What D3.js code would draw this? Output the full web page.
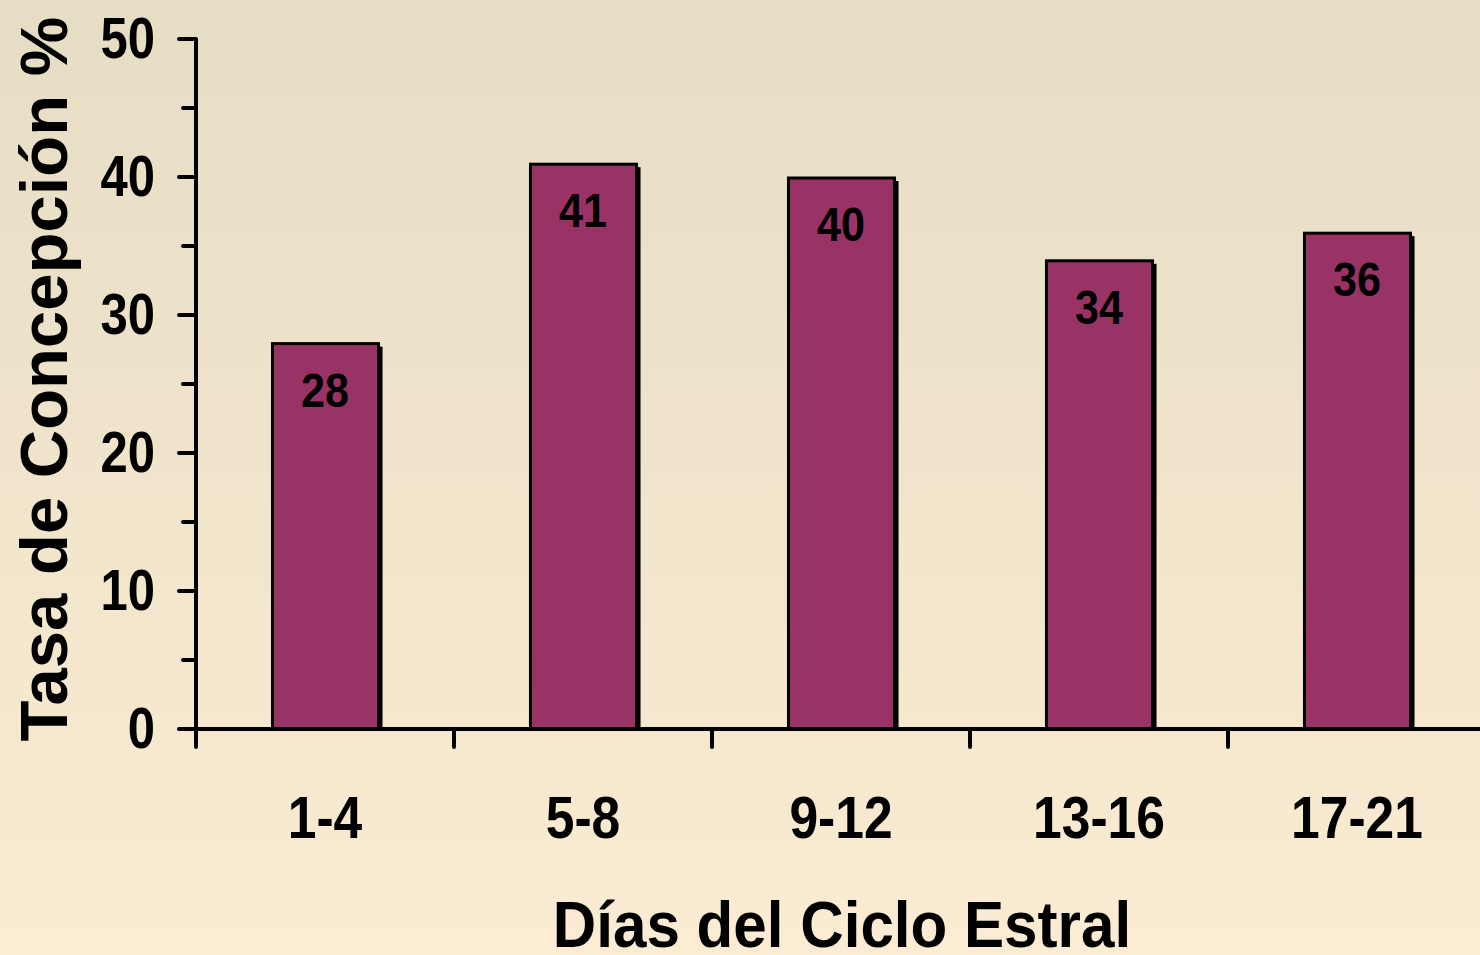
<!DOCTYPE html>
<html>
<head>
<meta charset="utf-8">
<script src="https://cdn.jsdelivr.net/npm/d3@7"></script>
<style>
  html, body { margin: 0; padding: 0; }
  body { width: 1480px; height: 955px; overflow: hidden; }
  text { font-family: "Liberation Sans", Arial, sans-serif; font-weight: bold; fill: #000; }
</style>
</head>
<body>
<div id="visualization"></div>
<script>
const categories = ["1-4", "5-8", "9-12", "13-16", "17-21"];
const values = [28, 41, 40, 34, 36];
const yTicks = [0, 10, 20, 30, 40, 50];
const yMinorTicks = [5, 15, 25, 35, 45];

const W = 1480, H = 955;
const x0 = 196, y0 = 729, yTop = 39;
const narrow = 0.86; // fake Arial Narrow by squeezing the text

const svg = d3
  .select("#visualization")
  .append("svg")
  .attr("width", W)
  .attr("height", H);

// background gradient
const grad = svg.append("defs").append("linearGradient")
  .attr("id", "bg").attr("x1", 0).attr("y1", 0).attr("x2", 0).attr("y2", 1);
grad.append("stop").attr("offset", "0%").attr("stop-color", "#e5ddc4");
grad.append("stop").attr("offset", "100%").attr("stop-color", "#fbecd3");
svg.append("rect").attr("width", W).attr("height", H).attr("fill", "url(#bg)");

const x = d3.scaleBand()
  .domain(categories)
  .range([x0, x0 + 5 * 258])
  .paddingInner(0.585)
  .paddingOuter(0.2925);

const y = d3.scaleLinear().domain([0, 50]).range([y0, yTop]);

// bars: shadow then bar
const bars = svg.append("g");
bars.selectAll("rect.shadow")
  .data(values)
  .join("rect")
  .attr("class", "shadow")
  .attr("x", (d, i) => x(categories[i]) + 4)
  .attr("y", (d) => y(d) + 4)
  .attr("width", x.bandwidth())
  .attr("height", (d) => y0 - y(d) - 4)
  .attr("fill", "#000");

bars.selectAll("rect.bar")
  .data(values)
  .join("rect")
  .attr("class", "bar")
  .attr("x", (d, i) => x(categories[i]) + 1)
  .attr("y", (d) => y(d) + 1)
  .attr("width", x.bandwidth() - 1)
  .attr("height", (d) => y0 - y(d) - 1)
  .attr("fill", "#993366")
  .attr("stroke", "#000")
  .attr("stroke-width", 3);

// value labels
svg.append("g")
  .selectAll("text")
  .data(values)
  .join("text")
  .attr("transform", (d, i) =>
    `translate(${x(categories[i]) + x.bandwidth() / 2},${y(d) + 64}) scale(0.9,1)`)
  .attr("text-anchor", "middle")
  .attr("font-size", "48px")
  .text((d) => d);

// y axis
const yAxis = svg.append("g").attr("transform", `translate(${x0},0)`);
yAxis.append("line")
  .attr("x1", 0).attr("x2", 0)
  .attr("y1", yTop).attr("y2", y0)
  .attr("stroke", "#000").attr("stroke-width", 4);
yAxis.selectAll("line.major")
  .data(yTicks)
  .join("line")
  .attr("class", "major")
  .attr("x1", -17).attr("x2", 0)
  .attr("y1", (d) => y(d)).attr("y2", (d) => y(d))
  .attr("stroke", "#000").attr("stroke-width", 4).attr("stroke-linecap", "round");
yAxis.selectAll("line.minor")
  .data(yMinorTicks)
  .join("line")
  .attr("class", "minor")
  .attr("x1", -13).attr("x2", 0)
  .attr("y1", (d) => y(d)).attr("y2", (d) => y(d))
  .attr("stroke", "#000").attr("stroke-width", 4).attr("stroke-linecap", "round");
yAxis.selectAll("text")
  .data(yTicks)
  .join("text")
  .attr("transform", (d) => `translate(-41,${y(d) + 19}) scale(${narrow},1)`)
  .attr("text-anchor", "end")
  .attr("font-size", "57px")
  .text((d) => d);

// x axis
const xAxis = svg.append("g").attr("transform", `translate(0,${y0})`);
xAxis.append("line")
  .attr("x1", 180).attr("x2", W)
  .attr("y1", 0).attr("y2", 0)
  .attr("stroke", "#000").attr("stroke-width", 4).attr("stroke-linecap", "round");
const xTickPos = d3.range(6).map((i) => x0 + i * 258);
xAxis.selectAll("line.tick")
  .data(xTickPos)
  .join("line")
  .attr("class", "tick")
  .attr("x1", (d) => d).attr("x2", (d) => d)
  .attr("y1", 0).attr("y2", 18)
  .attr("stroke", "#000").attr("stroke-width", 4).attr("stroke-linecap", "round");
xAxis.selectAll("text")
  .data(categories)
  .join("text")
  .attr("transform", (d) => `translate(${x(d) + x.bandwidth() / 2},109) scale(${narrow},1)`)
  .attr("text-anchor", "middle")
  .attr("font-size", "60px")
  .text((d) => d);

// axis titles
svg.append("text")
  .attr("transform", "translate(842,947) scale(0.94,1)")
  .attr("text-anchor", "middle")
  .attr("font-size", "64px")
  .text("Días del Ciclo Estral");

svg.append("text")
  .attr("transform", "translate(67,379) rotate(-90)")
  .attr("text-anchor", "middle")
  .attr("font-size", "67px")
  .text("Tasa de Concepción %");
</script>
</body>
</html>
